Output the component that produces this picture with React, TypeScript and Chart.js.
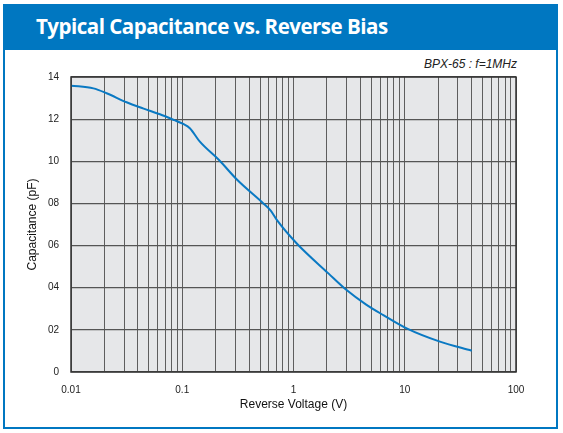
import React, { useEffect, useRef } from 'react';
import { Chart, registerables } from 'chart.js';

Chart.register(...registerables);

// Curve: reverse voltage (V) vs capacitance (pF)
const voltage = [0.01, 0.0159, 0.0209, 0.0316, 0.045, 0.063, 0.085, 0.102, 0.117, 0.144, 0.214, 0.313, 0.536, 0.624, 0.716, 1.07, 2.06, 3.0, 4.5, 6.42, 10.4, 20.7, 40];
const capacitance = [13.59, 13.46, 13.23, 12.8, 12.5, 12.23, 11.95, 11.77, 11.57, 10.93, 10.06, 9.11, 8.0, 7.66, 7.18, 6.1, 4.68, 3.89, 3.2, 2.7, 2.07, 1.44, 1.01];

const yTickValues = [0, 2, 4, 6, 8, 10, 12, 14];
const yTickLabels = ['0', '02', '04', '06', '08', '10', '12', '14'];

const decades = [0.01, 0.1, 1, 10];
const multipliers = [1, 2, 3, 4, 5, 6, 7, 8, 9];
const xMax = 100;
const xDecadeValues = [0.01, 0.1, 1, 10, 100];
const xDecadeLabels = ['0.01', '0.1', '1', '10', '100'];

const FONT = "'Liberation Sans', Arial, Helvetica, sans-serif";
const BLUE = '#0077c1';

function buildXTicks() {
  const vals: number[] = [];
  decades.forEach((d) => multipliers.forEach((m) => vals.push(parseFloat((d * m).toPrecision(6)))));
  vals.push(xMax);
  return vals;
}

function decadeLabel(v: number) {
  const i = xDecadeValues.findIndex((d) => Math.abs(d - v) / d < 1e-6);
  return i >= 0 ? xDecadeLabels[i] : '';
}

const plotDecor = {
  id: 'plotDecor',
  beforeDraw(chart: any) {
    const { ctx, chartArea: a } = chart;
    ctx.save();
    ctx.fillStyle = '#e6e7e9';
    ctx.fillRect(a.left, a.top, a.right - a.left, a.bottom - a.top);
    ctx.restore();
  },
  afterDraw(chart: any) {
    const { ctx, chartArea: a } = chart;
    ctx.save();
    ctx.strokeStyle = '#333333';
    ctx.lineWidth = 1.5;
    ctx.strokeRect(a.left, a.top, a.right - a.left, a.bottom - a.top);
    ctx.restore();
  },
};

export default function App() {
  const ref = useRef<HTMLCanvasElement>(null);

  useEffect(() => {
    if (!ref.current) return;
    const xTicks = buildXTicks();
    const chart = new Chart(ref.current, {
      type: 'line',
      data: {
        datasets: [
          {
            data: voltage.map((v, i) => ({ x: v, y: capacitance[i] })),
            borderColor: '#0a79c3',
            borderWidth: 2,
            pointRadius: 0,
            cubicInterpolationMode: 'monotone',
            fill: false,
          },
        ],
      },
      options: {
        animation: false,
        responsive: false,
        maintainAspectRatio: false,
        events: [],
        layout: { padding: { left: 0, top: 77, right: 47, bottom: 11 } },
        plugins: { legend: { display: false }, tooltip: { enabled: false }, title: { display: false } },
        scales: {
          x: {
            type: 'logarithmic',
            min: 0.01,
            max: 100,
            afterBuildTicks: (scale: any) => {
              scale.ticks = xTicks.map((v) => ({ value: v, major: decadeLabel(v) !== '' }));
            },
            afterFit: (scale: any) => {
              scale.height = 50;
            },
            grid: { color: '#5e5e5e', lineWidth: 1, drawTicks: false },
            border: { display: false },
            ticks: {
              autoSkip: false,
              maxRotation: 0,
              padding: 12,
              color: '#222',
              font: { family: FONT, size: 10 },
              callback: (v: any) => decadeLabel(Number(v)),
            },
            title: {
              display: true,
              text: 'Reverse Voltage (V)',
              color: '#111',
              font: { family: FONT, size: 12 },
              padding: { top: 0, bottom: 10 },
            },
          },
          y: {
            type: 'linear',
            min: 0,
            max: 14,
            afterBuildTicks: (scale: any) => {
              scale.ticks = yTickValues.map((v) => ({ value: v }));
            },
            afterFit: (scale: any) => {
              scale.width = 71;
            },
            grid: { color: '#555555', lineWidth: 1.2, drawTicks: false },
            border: { display: false },
            ticks: {
              padding: 12,
              color: '#222',
              font: { family: FONT, size: 10 },
              callback: (v: any) => {
                const i = yTickValues.indexOf(Number(v));
                return i >= 0 ? yTickLabels[i] : '';
              },
            },
            title: {
              display: true,
              text: 'Capacitance (pF)',
              color: '#111',
              font: { family: FONT, size: 12 },
              padding: { top: 25, bottom: 0 },
            },
          },
        },
      },
      plugins: [plotDecor],
    } as any);
    return () => chart.destroy();
  }, []);

  return (
    <div style={{ position: 'fixed', left: 0, top: 0, width: 563, height: 433, background: '#fff', overflow: 'hidden' }}>
      <div
        style={{
          position: 'absolute',
          left: 3,
          top: 4,
          width: 555,
          height: 425,
          boxSizing: 'border-box',
          border: `2px solid ${BLUE}`,
        }}
      />
      <div
        style={{
          position: 'absolute',
          left: 3,
          top: 4,
          width: 555,
          height: 46,
          background: BLUE,
          color: '#fff',
          fontFamily: "'Open Sans', 'Noto Sans', sans-serif",
          fontWeight: 700,
          fontSize: 20.5,
          lineHeight: '44px',
          paddingLeft: 33,
          boxSizing: 'border-box',
          letterSpacing: -0.5,
          whiteSpace: 'nowrap',
        }}
      >
        Typical Capacitance vs. Reverse Bias
      </div>
      <div
        style={{
          position: 'absolute',
          right: 563 - 517,
          top: 57,
          fontFamily: FONT,
          fontStyle: 'italic',
          fontSize: 12,
          color: '#222',
          whiteSpace: 'nowrap',
        }}
      >
        BPX-65 : f=1MHz
      </div>
      <canvas ref={ref} width={563} height={433} style={{ position: 'absolute', left: 0, top: 0, width: 563, height: 433 }} />
    </div>
  );
}
